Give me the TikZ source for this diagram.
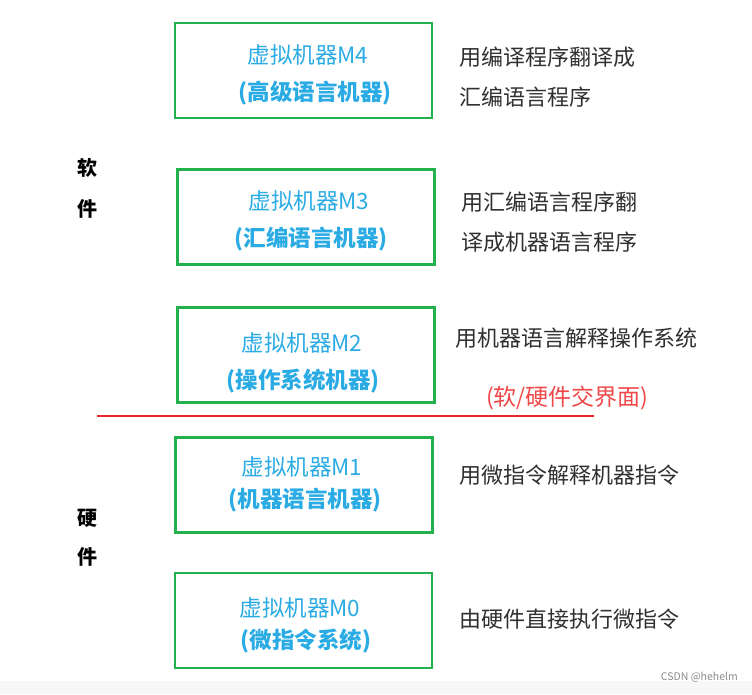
\documentclass[tikz,border=0pt]{standalone}
\usepackage{fontspec}
\setmainfont{Noto Sans CJK SC}
\definecolor{boxgreen}{HTML}{22B14C}
\definecolor{txtblue}{HTML}{2AABE4}
\definecolor{linered}{HTML}{E8262D}
\definecolor{txtred}{HTML}{F04848}
\definecolor{txtgray}{HTML}{303030}
\begin{document}
\begin{tikzpicture}[x=1pt,y=-1pt,
  vbox/.style={draw=boxgreen,line width=2.5pt,minimum width=257pt,minimum height=95pt,inner sep=0pt},
  vname/.style={inner sep=0pt,text=txtblue,font=\fontsize{22.5}{22.5}\selectfont},
  vkind/.style={inner sep=0pt,text=txtblue,font=\fontsize{22.5}{22.5}\selectfont\bfseries},
  desc/.style={anchor=west,inner sep=0pt,align=left,text=txtgray,font=\fontsize{22}{39.5}\selectfont},
  side/.style={inner sep=0pt,font=\fontsize{20}{20}\selectfont\bfseries}]
\useasboundingbox (0,0) rectangle (752,694);
\fill[white] (0,0) rectangle (752,694);
\fill[black!3] (0,681) rectangle (752,694);
\node[vbox] (m4) at (303.5,70.5) {};
\node[vbox] (m3) at (306,217) {};
\node[vbox] (m2) at (306,355) {};
\node[vbox] (m1) at (304,485) {};
\node[vbox] (m0) at (303.5,620.5) {};
\node[vname] (n4) at (308,55) {虚拟机器M4};
\node[vkind] (k4) at (315,93) {(高级语言机器)};
\node[vname] (n3) at (309,201) {虚拟机器M3};
\node[vkind] (k3) at (311,239) {(汇编语言机器)};
\node[vname] (n2) at (302,343) {虚拟机器M2};
\node[vkind] (k2) at (303,381) {(操作系统机器)};
\node[vname] (n1) at (302,467) {虚拟机器M1};
\node[vkind] (k1) at (305,500) {(机器语言机器)};
\node[vname] (n0) at (300,608) {虚拟机器M0};
\node[vkind] (k0) at (306,641) {(微指令系统)};
\node[desc] (d4) at (459,77) {用编译程序翻译成\\汇编语言程序};
\node[desc] (d3) at (461,222) {用汇编语言程序翻\\译成机器语言程序};
\node[desc] (d2) at (455,338) {用机器语言解释操作系统};
\node[desc,text=txtred,font=\fontsize{23}{23}\selectfont] (d2b) at (486,398) {(软/硬件交界面)};
\node[desc] (d1) at (459,475) {用微指令解释机器指令};
\node[desc] (d0) at (459,619) {由硬件直接执行微指令};
\node[side] (s1) at (87,168) {软};
\node[side] (s2) at (87,209) {件};
\node[side] (h1) at (87,518) {硬};
\node[side] (h2) at (87,557) {件};
\coordinate (la) at (97,416);
\coordinate (lb) at (594,416);
\draw[linered,line width=2.2pt] (la) -- (lb);
\node[anchor=east,inner sep=0pt,text=black!45,font=\fontsize{10.5}{10.5}\selectfont] (wm) at (738,677) {CSDN @hehelm};
\end{tikzpicture}
\end{document}
